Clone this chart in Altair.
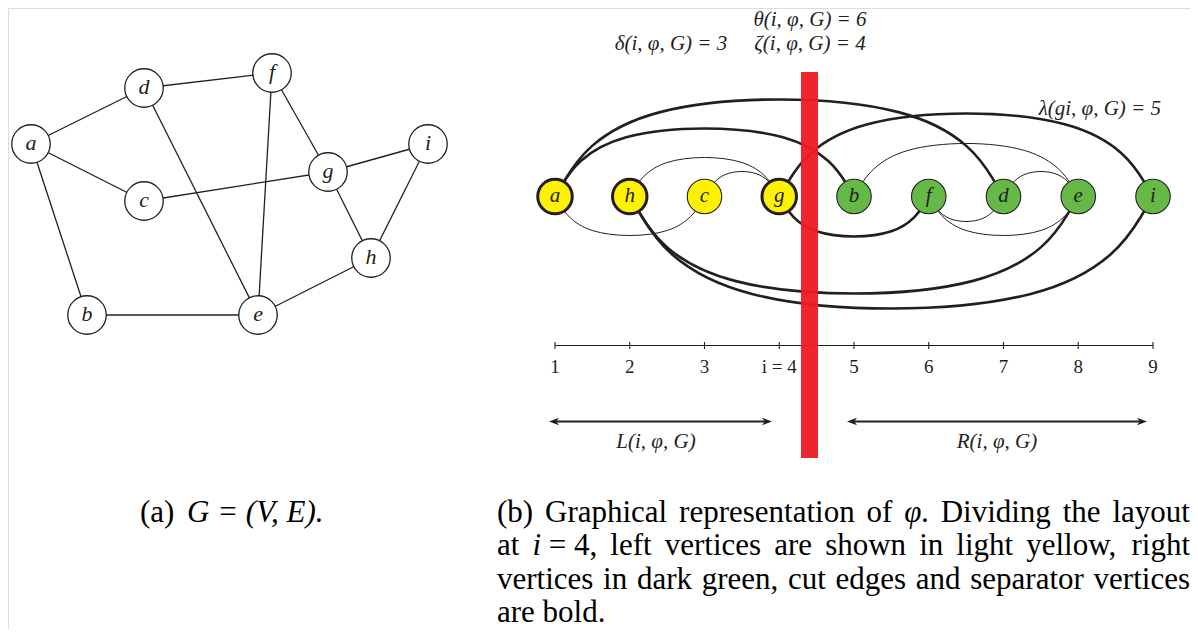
import altair as alt
import pandas as pd

# ---------------- data: panel (a), the graph G = (V, E) ----------------
g_nodes = ["a", "b", "c", "d", "e", "f", "g", "h", "i"]
g_node_x = [31, 87, 144, 144, 258, 272, 328, 371, 428]
g_node_y = [144, 315, 201, 88, 315, 73, 172, 258, 144]
g_edge_u = ["a", "d", "a", "a", "d", "f", "f", "c", "g", "g", "i", "h", "b"]
g_edge_v = ["d", "f", "c", "b", "e", "e", "g", "g", "i", "h", "h", "e", "e"]

# ---------------- data: panel (b), the linear layout phi ----------------
phi_order = ["a", "h", "c", "g", "b", "f", "d", "e", "i"]   # vertex at position 1..9
phi_positions = [1, 2, 3, 4, 5, 6, 7, 8, 9]
phi_tick_labels = ["1", "2", "3", "i = 4", "5", "6", "7", "8", "9"]
cut_index = 4
separators = ["a", "h", "g"]
arc_u = ["a", "a", "h", "c", "g", "b", "d", "a", "g", "f", "f", "h", "h"]
arc_v = ["d", "b", "g", "g", "i", "e", "e", "c", "f", "d", "e", "e", "i"]
arc_side = ["above"] * 7 + ["below"] * 6
arc_bend = [97, 68, 39, 25, 83, 53, 25, 39, 40, 25, 39, 97, 112]

math_labels = ["θ(i, φ, G) = 6", "ζ(i, φ, G) = 4", "δ(i, φ, G) = 3",
               "λ(gi, φ, G) = 5"]
side_labels = ["L(i, φ, G)", "R(i, φ, G)"]

caption_a = [("(a)", False), ("G = (V, E).", True)]
# caption (b): lines -> words -> pieces (text, italic)
caption_b = [
    [[("(b)", False)], [("Graphical", False)], [("representation", False)], [("of", False)],
     [("φ", True), (".", False)], [("Dividing", False)], [("the", False)], [("layout", False)]],
    [[("at", False)], [("i", True), (" = 4,", False)], [("left", False)], [("vertices", False)],
     [("are", False)], [("shown", False)], [("in", False)], [("light", False)],
     [("yellow,", False)], [("right", False)]],
    [[("vertices", False)], [("in", False)], [("dark", False)], [("green,", False)],
     [("cut", False)], [("edges", False)], [("and", False)], [("separator", False)],
     [("vertices", False)]],
    [[("are", False)], [("bold.", False)]],
]

# ---------------- layout (figure coordinates, px) ----------------
X0, DX = 555, 74.75          # position 1 and spacing of the layout
ROW_Y = 196.5
AXIS_Y = 345.5
INK = "#231f20"
YELLOW = "#fff200"
GREEN = "#66b947"
RED = "#ed1c24"
FONT = "Liberation Serif"
CAP_SIZE = 31
CAP_LEFT, CAP_RIGHT = 497, 1190
CAP_BASE = [521.5, 555, 588.5, 622]

# Times / Liberation Serif advance widths (1/1000 em), used to justify the caption
ROMAN_W = {" ": 250, "(": 333, ")": 333, ",": 250, ".": 250, "=": 564, "4": 500,
           "D": 722, "G": 722, "a": 444, "b": 500, "c": 444, "d": 500, "e": 444,
           "f": 333, "g": 500, "h": 500, "i": 278, "k": 500, "l": 278, "m": 778,
           "n": 500, "o": 500, "p": 500, "r": 333, "s": 389, "t": 278, "u": 500,
           "v": 500, "w": 722, "y": 500}
ITALIC_W = {"i": 278, "φ": 540, " ": 250}


def width(text, italic):
    table = ITALIC_W if italic else ROMAN_W
    return sum(table.get(ch, 500) for ch in text) * CAP_SIZE / 1000.0


xs = alt.Scale(domain=[8, 1190], nice=False, zero=False)
ys = alt.Scale(domain=[8, 629], nice=False, zero=False, reverse=True)
X = lambda f="x": alt.X(f"{f}:Q", scale=xs, axis=None)
Y = lambda f="y": alt.Y(f"{f}:Q", scale=ys, axis=None)
X2 = lambda f="x2": alt.X2(f"{f}:Q")
Y2 = lambda f="y2": alt.Y2(f"{f}:Q")

# panel (a)
gpos = {n: (x, y) for n, x, y in zip(g_nodes, g_node_x, g_node_y)}
df_gnodes = pd.DataFrame({"name": g_nodes, "x": g_node_x, "y": g_node_y})
df_gedges = pd.DataFrame({
    "x": [gpos[u][0] for u in g_edge_u], "y": [gpos[u][1] for u in g_edge_u],
    "x2": [gpos[v][0] for v in g_edge_v], "y2": [gpos[v][1] for v in g_edge_v]})

g_edges = alt.Chart(df_gedges).mark_rule(color=INK, strokeWidth=1.3).encode(
    x=X(), y=Y(), x2=X2(), y2=Y2())
g_circles = alt.Chart(df_gnodes).mark_circle(
    size=1480, fill="white", stroke=INK, strokeWidth=1.3, opacity=1).encode(x=X(), y=Y())
g_labels = alt.Chart(df_gnodes).mark_text(
    font=FONT, fontStyle="italic", fontSize=22, color=INK, dy=-1).encode(
    x=X(), y=Y(), text="name:N")

# panel (b)
pos_of = {n: p for n, p in zip(phi_order, phi_positions)}
px = lambda p: X0 + (p - 1) * DX
df_vert = pd.DataFrame({
    "name": phi_order,
    "x": [px(p) for p in phi_positions],
    "y": [ROW_Y] * len(phi_order),
    "fill": [YELLOW if p <= cut_index else GREEN for p in phi_positions],
    "sw": [3.0 if n in separators else 1.1 for n in phi_order]})

arc_rows = []
for k, (u, v, side, h) in enumerate(zip(arc_u, arc_v, arc_side, arc_bend)):
    p1, p2 = sorted([pos_of[u], pos_of[v]])
    x1, x2 = px(p1), px(p2)
    cut = (p1 <= cut_index) != (p2 <= cut_index)
    s = -1 if side == "above" else 1
    c = h / 0.958
    a = min(0.6 * c, 0.3 * (x2 - x1))
    pts = [(x1, ROW_Y), (x1 + a, ROW_Y + s * c), (x2 - a, ROW_Y + s * c), (x2, ROW_Y)]
    for j, (x, y) in enumerate(pts):
        arc_rows.append({"edge": k, "ord": j, "x": x, "y": y, "cut": cut})
df_arcs = pd.DataFrame(arc_rows)

arcs_thin = alt.Chart(df_arcs).transform_filter("!datum.cut").mark_line(
    interpolate="basis", color=INK, strokeWidth=1.0).encode(
    x=X(), y=Y(), order="ord:O", detail="edge:N")
arcs_bold = alt.Chart(df_arcs).transform_filter("datum.cut").mark_line(
    interpolate="basis", color=INK, strokeWidth=2.6).encode(
    x=X(), y=Y(), order="ord:O", detail="edge:N")
verts = alt.Chart(df_vert).mark_circle(size=1190, stroke=INK, opacity=1).encode(
    x=X(), y=Y(), fill=alt.Fill("fill:N", scale=None),
    strokeWidth=alt.StrokeWidth("sw:Q", scale=None))
vlabels = alt.Chart(df_vert).mark_text(
    font=FONT, fontStyle="italic", fontSize=21, color=INK, dy=-1).encode(
    x=X(), y=Y(), text="name:N")

# axis of positions
df_axis = pd.DataFrame({"x": [px(1)], "x2": [px(9)], "y": [AXIS_Y]})
axis_line = alt.Chart(df_axis).mark_rule(color=INK, strokeWidth=1.2).encode(
    x=X(), x2=X2(), y=Y())
df_ticks = pd.DataFrame({"x": [px(p) for p in phi_positions],
                         "y": [AXIS_Y - 3.5] * 9, "y2": [AXIS_Y + 3.5] * 9,
                         "ty": [AXIS_Y + 21.5] * 9, "label": phi_tick_labels})
ticks = alt.Chart(df_ticks).mark_rule(color=INK, strokeWidth=1.1).encode(
    x=X(), y=Y(), y2=Y2())
tick_text = alt.Chart(df_ticks).mark_text(
    font=FONT, fontSize=19, color=INK).encode(x=X(), y=Y("ty"), text="label:N")

# L / R arrows
HEAD = 100
half = HEAD ** 0.5 / 2
df_arrows = pd.DataFrame({"x": [549, 847], "x2": [772, 1147], "y": [421.5, 421.5]})
df_arrows["hl"] = df_arrows["x"] + half
df_arrows["hr"] = df_arrows["x2"] - half
arrow_lines = alt.Chart(df_arrows).mark_rule(color=INK, strokeWidth=1.8).encode(
    x=X("hl"), x2=X2("hr"), y=Y())
left_head = "M-1,0L1,-0.75L0.45,0L1,0.75Z"
right_head = "M1,0L-1,-0.75L-0.45,0L-1,0.75Z"
heads_l = alt.Chart(df_arrows).mark_point(
    shape=left_head, size=HEAD, filled=True, color=INK, opacity=1).encode(x=X("hl"), y=Y())
heads_r = alt.Chart(df_arrows).mark_point(
    shape=right_head, size=HEAD, filled=True, color=INK, opacity=1).encode(x=X("hr"), y=Y())

# separator bar
df_bar = pd.DataFrame({"x": [801], "x2": [818], "y": [72], "y2": [458]})
bar = alt.Chart(df_bar).mark_rect(color=RED, opacity=0.96).encode(
    x=X(), x2=X2(), y=Y(), y2=Y2())

# annotations
df_math = pd.DataFrame({"t": math_labels, "x": [810, 810, 671, 1161],
                        "y": [20, 44, 44, 109], "al": ["center", "center", "center", "right"]})
math_c = alt.Chart(df_math).transform_filter("datum.al == 'center'").mark_text(
    font=FONT, fontStyle="italic", fontSize=21, color=INK, align="center").encode(
    x=X(), y=Y(), text="t:N")
math_r = alt.Chart(df_math).transform_filter("datum.al == 'right'").mark_text(
    font=FONT, fontStyle="italic", fontSize=21, color=INK, align="right").encode(
    x=X(), y=Y(), text="t:N")
df_side = pd.DataFrame({"t": side_labels, "x": [656, 997], "y": [442, 442]})
side_text = alt.Chart(df_side).mark_text(
    font=FONT, fontStyle="italic", fontSize=21, color=INK).encode(x=X(), y=Y(), text="t:N")

# captions: (a) plain, (b) justified between CAP_LEFT and CAP_RIGHT
cap_rows = [{"t": caption_a[0][0], "it": False, "x": 140, "y": CAP_BASE[0]},
            {"t": caption_a[1][0], "it": True, "x": 187, "y": CAP_BASE[0]}]
space = ROMAN_W[" "] * CAP_SIZE / 1000.0
for li, words in enumerate(caption_b):
    wlen = [sum(width(t, it) for t, it in w) for w in words]
    last = li == len(caption_b) - 1
    gap = space if last else (CAP_RIGHT - CAP_LEFT - sum(wlen)) / (len(words) - 1)
    x = CAP_LEFT
    for w, wl in zip(words, wlen):
        xp = x
        for t, it in w:
            lead = len(t) - len(t.lstrip(" "))
            cap_rows.append({"t": t.strip(" "), "it": it,
                             "x": xp + width(" " * lead, it), "y": CAP_BASE[li]})
            xp += width(t, it)
        x += wl + gap
df_cap = pd.DataFrame(cap_rows)
cap_up = alt.Chart(df_cap).transform_filter("!datum.it").mark_text(
    font=FONT, fontSize=CAP_SIZE, color="#000000", align="left",
    baseline="alphabetic").encode(x=X(), y=Y(), text="t:N")
cap_it = alt.Chart(df_cap).transform_filter("datum.it").mark_text(
    font=FONT, fontSize=CAP_SIZE, fontStyle="italic", color="#000000", align="left",
    baseline="alphabetic").encode(x=X(), y=Y(), text="t:N")

chart = alt.layer(
    g_edges, g_circles, g_labels,
    arcs_thin, arcs_bold, verts, vlabels,
    axis_line, ticks, tick_text,
    arrow_lines, heads_l, heads_r,
    bar,
    math_c, math_r, side_text, cap_up, cap_it,
).properties(
    width=1182, height=621, padding=0,
    autosize=alt.AutoSizeParams(type="none"),
).configure_view(strokeWidth=0).configure(background="white")

chart.save("out.html", embed_options={"renderer": "svg", "actions": False})
